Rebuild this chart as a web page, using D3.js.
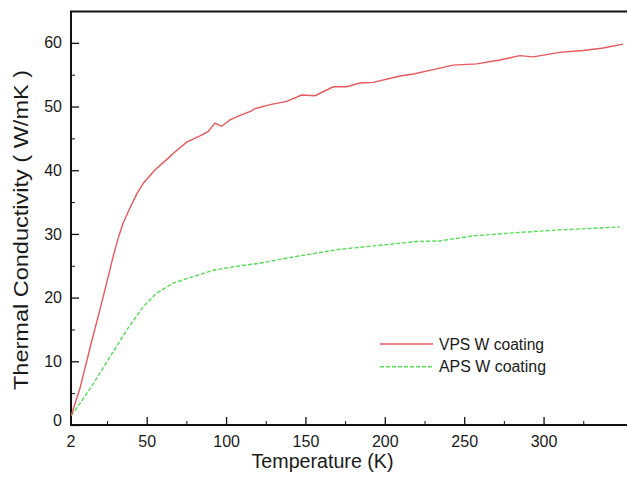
<!DOCTYPE html>
<html>
<head>
<meta charset="utf-8">
<script src="https://cdn.jsdelivr.net/npm/d3@7"></script>
<style>
  body { margin: 0; background: #fff; }
  svg { display: block; font-family: "Liberation Sans", Arial, sans-serif; }
  .axis text { font-size: 16px; fill: #1a1a1a; }
  .axis path, .axis line { stroke: #111; }
</style>
</head>
<body>
<svg id="chart" width="628" height="482"></svg>
<script>
// VPS W coating (red, solid)
var vpsT = [2.5, 8, 15, 20, 25, 29, 32, 35, 39.5, 44, 48, 55, 63.6, 67, 75.2, 83.6, 88.8, 93, 97.2, 102.5, 108.8, 116, 117.5, 127.7, 138.2, 147.6, 156, 167.5, 176, 184.4, 192.7, 209.6, 218, 230.5, 243, 257.8, 272.5, 285, 293.5, 310, 325, 337.6, 350];
var vpsK = [1.5, 5.8, 12.8, 17.6, 22.5, 26.6, 29.3, 31.6, 34.1, 36.4, 38, 40, 41.9, 42.7, 44.4, 45.4, 46.1, 47.4, 46.9, 47.9, 48.6, 49.3, 49.6, 50.3, 50.8, 51.8, 51.7, 53.1, 53.1, 53.7, 53.8, 54.8, 55.1, 55.8, 56.5, 56.7, 57.3, 58, 57.8, 58.5, 58.8, 59.2, 59.8];

// APS W coating (green, dashed)
var apsT = [2.5, 8, 16.4, 26.9, 37.4, 47.9, 56.3, 66.8, 79.4, 92, 108.8, 121.4, 140.3, 157, 171.7, 188.6, 220, 234.7, 255.7, 283, 308, 348];
var apsK = [1.5, 3.4, 6.5, 10.7, 14.9, 18.6, 20.7, 22.3, 23.3, 24.3, 25.0, 25.4, 26.3, 27.0, 27.6, 28.0, 28.8, 28.9, 29.7, 30.2, 30.6, 31.1];

var xMajor = [2, 50, 100, 150, 200, 250, 300];
var xMinor = [25, 75, 125, 175, 225, 275, 325];
var yMajor = [0, 10, 20, 30, 40, 50, 60];
var yMinor = [5, 15, 25, 35, 45, 55];

var seriesNames = ["VPS W coating", "APS W coating"];
var seriesColors = ["#e8575c", "#55dd55"];

var svg = d3.select("#chart");

var x = d3.scaleLinear().domain([2, 353]).range([70.5, 627.7]);
var y = d3.scaleLinear().domain([0, 65]).range([425, 11]);

var x0 = 71, xEnd = 627;

// minor ticks
svg.append("g")
    .attr("class", "axis")
    .attr("transform", "translate(0,425)")
    .call(d3.axisBottom(x).tickValues(xMinor).tickSize(-4).tickFormat(""))
    .call(function(g) { g.select(".domain").remove(); });

svg.append("g")
    .attr("class", "axis")
    .attr("transform", "translate(" + x0 + ",0)")
    .call(d3.axisLeft(y).tickValues(yMinor).tickSize(-4).tickFormat(""))
    .call(function(g) { g.select(".domain").remove(); });

// major ticks
var xAxis = svg.append("g")
    .attr("class", "axis")
    .attr("transform", "translate(0,425)")
    .call(d3.axisBottom(x).tickValues(xMajor).tickSize(-8).tickPadding(11).tickFormat(d3.format("d")));
xAxis.select(".domain").remove();
xAxis.selectAll("line").attr("stroke-width", 1.3);

var yAxis = svg.append("g")
    .attr("class", "axis")
    .attr("transform", "translate(" + x0 + ",0)")
    .call(d3.axisLeft(y).tickValues(yMajor).tickSize(-8).tickPadding(9).tickFormat(d3.format("d")));
yAxis.select(".domain").remove();
yAxis.selectAll("line").attr("stroke-width", 1.3);
yAxis.selectAll(".tick").filter(function(d) { return d === 0; })
    .select("text").attr("dy", "0.0em");

// frame: left, bottom and top
svg.append("path")
    .attr("d", "M" + xEnd + ",11.5H" + x0 + "V425H" + xEnd)
    .attr("fill", "none")
    .attr("stroke", "#111")
    .attr("stroke-width", 2);

// lines
var line = d3.line()
    .x(function(d) { return x(d[0]); })
    .y(function(d) { return y(d[1]); });

var vps = vpsT.map(function(t, i) { return [t, vpsK[i]]; });
var aps = apsT.map(function(t, i) { return [t, apsK[i]]; });

svg.append("path")
    .datum(aps)
    .attr("d", line)
    .attr("fill", "none")
    .attr("stroke", seriesColors[1])
    .attr("stroke-width", 1.4)
    .attr("stroke-dasharray", "4,2");

svg.append("path")
    .datum(vps)
    .attr("d", line)
    .attr("fill", "none")
    .attr("stroke", seriesColors[0])
    .attr("stroke-width", 1.4);

// axis titles
svg.append("text")
    .attr("x", 322.5)
    .attr("y", 468)
    .attr("text-anchor", "middle")
    .attr("font-size", 20)
    .attr("fill", "#1a1a1a")
    .attr("textLength", 142)
    .attr("lengthAdjust", "spacingAndGlyphs")
    .text("Temperature (K)");

svg.append("text")
    .attr("transform", "translate(28,230) rotate(-90)")
    .attr("text-anchor", "middle")
    .attr("font-size", 20)
    .attr("fill", "#1a1a1a")
    .attr("textLength", 320)
    .attr("lengthAdjust", "spacingAndGlyphs")
    .text("Thermal Conductivity ( W/mK )");

// legend
var legend = svg.selectAll(".legend")
    .data(seriesNames)
  .enter().append("g")
    .attr("class", "legend")
    .attr("transform", function(d, i) { return "translate(0," + (344 + i * 22.7) + ")"; });

legend.append("line")
    .attr("x1", 380)
    .attr("x2", 433)
    .attr("stroke", function(d, i) { return seriesColors[i]; })
    .attr("stroke-width", 1.4)
    .attr("stroke-dasharray", function(d, i) { return i ? "4,2" : null; });

legend.append("text")
    .attr("x", 439)
    .attr("y", 5.5)
    .attr("font-size", 16)
    .attr("fill", "#1a1a1a")
    .attr("textLength", function(d, i) { return i ? 107 : 105; })
    .attr("lengthAdjust", "spacingAndGlyphs")
    .text(function(d) { return d; });
</script>
</body>
</html>
